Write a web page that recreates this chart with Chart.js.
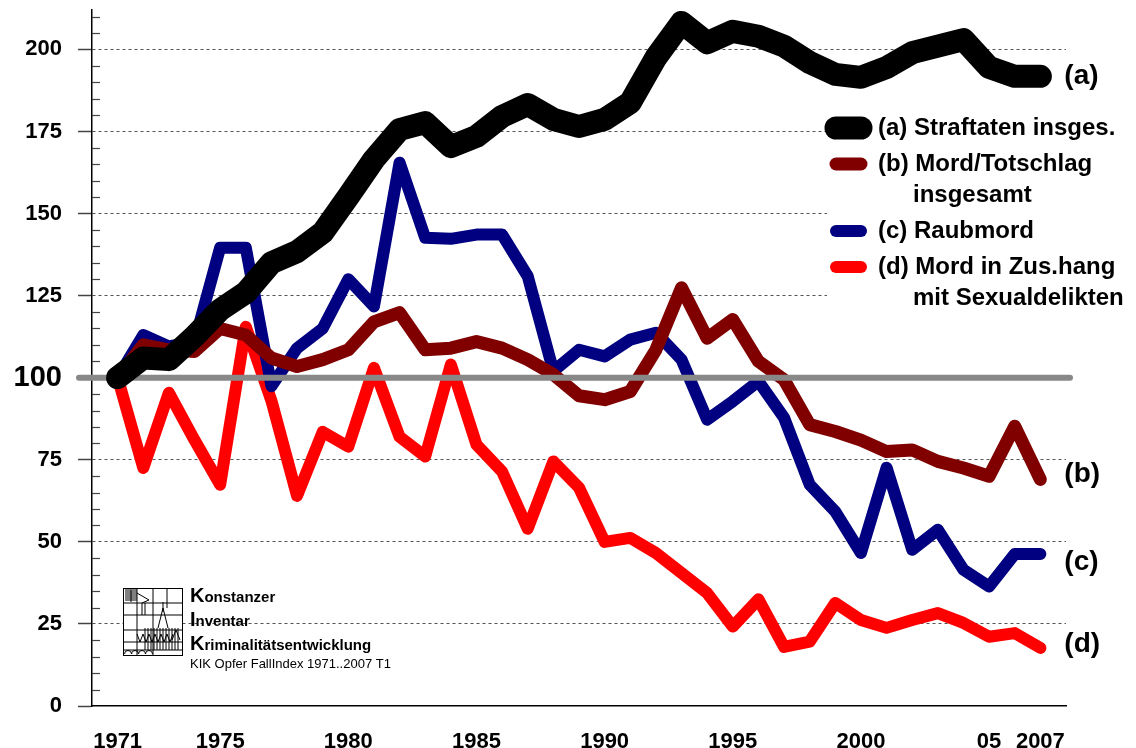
<!DOCTYPE html>
<html lang="de">
<head>
<meta charset="UTF-8">
<title>KIK Opfer FallIndex 1971..2007 T1</title>
<script src="https://cdn.jsdelivr.net/npm/chart.js"></script>
<style>
    html, body { margin: 0; padding: 0; background: #fff; }
    #wrap { width: 1136px; height: 748px; }
</style>
</head>
<body>
<div id="wrap"><canvas id="chart" width="1136" height="748"></canvas></div>
<script>
// Jahre und Indexwerte (1971 = 100)
const years = [1971, 1972, 1973, 1974, 1975, 1976, 1977, 1978, 1979, 1980,
               1981, 1982, 1983, 1984, 1985, 1986, 1987, 1988, 1989, 1990,
               1991, 1992, 1993, 1994, 1995, 1996, 1997, 1998, 1999, 2000,
               2001, 2002, 2003, 2004, 2005, 2006, 2007];

const straftaten = [100, 106, 105.5, 112.6, 120.7, 125.9, 135, 138.4, 144.2, 155.2,
                    166.5, 175.6, 177.7, 170.4, 173.5, 179.6, 183.2, 178.7, 176.5, 178.7,
                    183.8, 197.5, 208.2, 202, 205.5, 204, 201, 196, 192.4, 191.5,
                    194.5, 199, 201, 203, 194.5, 191.8, 191.8];

const mordTotschlag = [100, 110, 108.5, 108, 115, 113, 106, 103.4, 105.5, 108.5,
                       117, 119.8, 108.5, 109, 111, 109, 105.5, 101, 94.5, 93.3,
                       95.8, 108.5, 127.4, 112, 117.7, 105, 99.4, 85.7, 83.6, 81,
                       77.5, 78, 74.5, 72.5, 70, 85.2, 69];

const raubmord = [100, 113, 109.5, 111, 139.6, 139.6, 97.4, 109, 115, 130,
                  121.7, 165.5, 142.6, 142.3, 143.6, 143.6, 130.9, 102, 108.5, 106.5,
                  111.6, 113.7, 105.5, 87.2, 92.8, 98.9, 87.8, 67.4, 59.2, 46.6,
                  72.6, 47.6, 53.7, 41.5, 36.4, 46.3, 46.3];

const sexualMord = [100, 72.5, 95.4, 81, 67.4, 115.5, 93, 64, 83.5, 79,
                    103, 82, 76, 104, 79.6, 71.4, 54, 74.5, 66.5, 50,
                    51.2, 46.6, 40.5, 34.4, 24.2, 32.5, 18, 19.6, 31.4, 26.2,
                    23.8, 26.2, 28.3, 25.3, 21.1, 22.2, 17.7];

const baseline = 100;

const xTicks = [1971, 1975, 1980, 1985, 1990, 1995, 2000, 2005, 2007];
const xTickLabels = ['1971', '1975', '1980', '1985', '1990', '1995', '2000', '05', '2007'];

const seriesLabels = [
    ['(a) Straftaten insges.'],
    ['(b) Mord/Totschlag', 'insgesamt'],
    ['(c) Raubmord'],
    ['(d) Mord in Zus.hang', 'mit Sexualdelikten']
];
const endLabels = ['(a)', '(b)', '(c)', '(d)'];

const colors = ['#000000', '#800000', '#000080', '#ff0000'];
const widths = [23, 13, 12, 12];
const endNudge = [0, -5, 8, -4];

const FONT = '"Liberation Sans", Arial, sans-serif';
Chart.defaults.font.family = FONT;
Chart.defaults.color = '#000';

const allSeries = [straftaten, mordTotschlag, raubmord, sexualMord];

// graue 100er-Linie: ueber (b)-(d), unter (a)
const refLine = {
    id: 'refLine',
    beforeDatasetDraw(chart, args) {
        if (args.index !== 0) return;
        const { ctx, chartArea, scales } = chart;
        const py = scales.y.getPixelForValue(baseline);
        ctx.save();
        ctx.strokeStyle = '#888888';
        ctx.lineWidth = 6;
        ctx.lineCap = 'round';
        ctx.beginPath();
        ctx.moveTo(chartArea.left - 13, py);
        ctx.lineTo(chartArea.right + 4, py);
        ctx.stroke();
        ctx.restore();
    }
};

// kleine Teilstriche innen an der y-Achse
const minorTicks = {
    id: 'minorTicks',
    beforeDatasetsDraw(chart) {
        const { ctx, chartArea, scales } = chart;
        ctx.save();
        ctx.strokeStyle = '#444';
        ctx.lineWidth = 1.2;
        scales.y.ticks.forEach(t => {
            if (t.value % 25 === 0 || t.value % 5 !== 0) return;
            const py = Math.round(scales.y.getPixelForValue(t.value)) + 0.5;
            ctx.beginPath();
            ctx.moveTo(chartArea.left, py);
            ctx.lineTo(chartArea.left + 8, py);
            ctx.stroke();
        });
        ctx.restore();
    }
};

function drawLogo(ctx) {
    const L = 123, T = 588, W = 59, H = 67;
    const seg = (x1, y1, x2, y2) => { ctx.beginPath(); ctx.moveTo(x1, y1); ctx.lineTo(x2, y2); ctx.stroke(); };
    ctx.save();
    ctx.fillStyle = '#fff';
    ctx.fillRect(L, T, W, H);
    ctx.strokeStyle = '#000';
    ctx.lineWidth = 1;
    ctx.strokeRect(L + 0.5, T + 0.5, W, H);
    // Raster
    seg(L + 14, T, L + 14, T + H);
    seg(L + 30, T, L + 30, T + H);
    seg(L + 44, T, L + 44, T + 20);
    seg(L, T + 15, L + W, T + 15);
    seg(L, T + 27, L + W, T + 27);
    seg(L, T + 42, L + W, T + 42);
    seg(L, T + 54, L + W, T + 54);
    seg(L, T + 62, L + W, T + 62);
    // schraffiertes Feld oben links
    for (let i = 2; i < 14; i += 2) seg(L + 2, T + i, L + 14, T + i);
    seg(L + 8, T + 2, L + 8, T + 14);
    // Fahne
    seg(L + 14, T + 5, L + 26, T + 12);
    seg(L + 26, T + 12, L + 19, T + 15);
    seg(L + 19, T + 15, L + 19, T + 27);
    seg(L + 22, T + 15, L + 22, T + 27);
    // Turm
    seg(L + 40, T + 20, L + 35, T + 40);
    seg(L + 40, T + 20, L + 45, T + 40);
    seg(L + 40, T + 14, L + 40, T + 24);
    for (let x = L + 22; x <= L + W - 4; x += 3) seg(x, T + 40, x, T + 62);
    // Zickzack
    ctx.beginPath();
    ctx.moveTo(L + 14, T + 46);
    for (let k = 0; k < 6; k++) {
        ctx.lineTo(L + 17 + k * 6, T + 54);
        ctx.lineTo(L + 20 + k * 6, T + 46);
    }
    ctx.stroke();
    seg(L + W - 10, T + 52, L + W - 6, T + 42);
    seg(L + W - 6, T + 42, L + W - 2, T + 52);
    // Boegen unten
    for (let k = 0; k < 4; k++) {
        ctx.beginPath();
        ctx.arc(L + 5 + k * 7, T + 66, 3.5, Math.PI, 0);
        ctx.stroke();
    }
    ctx.restore();

    // Schriftzug
    ctx.save();
    ctx.fillStyle = '#000';
    ctx.textBaseline = 'alphabetic';
    ctx.textAlign = 'left';
    const lines = [['K', 'onstanzer', 602], ['I', 'nventar', 626], ['K', 'riminalitätsentwicklung', 650]];
    lines.forEach(([big, rest, by]) => {
        ctx.font = 'bold 20px ' + FONT;
        ctx.fillText(big, 190, by);
        const w = ctx.measureText(big).width;
        ctx.font = 'bold 15px ' + FONT;
        ctx.fillText(rest, 190 + w, by);
    });
    ctx.font = '13px ' + FONT;
    ctx.fillText('KIK Opfer FallIndex 1971..2007 T1', 190, 668);
    ctx.restore();
}

const annotations = {
    id: 'annotations',
    afterDatasetsDraw(chart) {
        const { ctx, scales } = chart;
        ctx.save();

        // Legende mit weissem Hintergrund
        ctx.fillStyle = '#fff';
        ctx.fillRect(827, 108, 1136 - 827, 210);
        let y = 128;
        seriesLabels.forEach((lines, i) => {
            ctx.strokeStyle = colors[i];
            ctx.lineWidth = widths[i];
            ctx.lineCap = 'round';
            ctx.beginPath();
            ctx.moveTo(836, y);
            ctx.lineTo(861, y);
            ctx.stroke();
            ctx.fillStyle = '#000';
            ctx.font = 'bold 24px ' + FONT;
            ctx.textAlign = 'left';
            ctx.textBaseline = 'middle';
            lines.forEach((t, k) => {
                ctx.fillText(t, k === 0 ? 878 : 913, y + k * 31);
            });
            y += 31 * (lines.length - 1) + 36;
        });

        // Kennbuchstaben am Linienende
        ctx.font = 'bold 28px ' + FONT;
        ctx.fillStyle = '#000';
        allSeries.forEach((s, i) => {
            const last = s.length - 1;
            const px = scales.x.getPixelForValue(years[last]) + 24;
            const py = scales.y.getPixelForValue(s[last]) + endNudge[i];
            ctx.fillText(endLabels[i], px, py);
        });
        ctx.restore();

        drawLogo(ctx);
    }
};

const ctx = document.getElementById('chart').getContext('2d');
new Chart(ctx, {
    type: 'line',
    data: {
        datasets: allSeries.map((s, i) => ({
            label: seriesLabels[i].join(' '),
            data: years.map((yr, k) => ({ x: yr, y: s[k] })),
            borderColor: colors[i],
            borderWidth: widths[i],
            clip: false
        }))
    },
    options: {
        responsive: false,
        animation: false,
        layout: { padding: { top: 10, right: 70, left: 0, bottom: 0 } },
        elements: {
            point: { radius: 0, hoverRadius: 0 },
            line: { tension: 0, borderCapStyle: 'round', borderJoinStyle: 'round', fill: false }
        },
        plugins: { legend: { display: false }, tooltip: { enabled: false } },
        scales: {
            x: {
                type: 'linear',
                min: 1970,
                max: 2008,
                afterFit: s => { s.height = 42; s.paddingLeft = 0; s.paddingRight = 0; },
                afterBuildTicks: s => { s.ticks = xTicks.map(v => ({ value: v })); },
                grid: { display: true, drawOnChartArea: false, drawTicks: false, color: 'rgba(0,0,0,0)' },
                border: { display: true, color: '#000', width: 1.5 },
                ticks: {
                    autoSkip: false,
                    maxRotation: 0,
                    padding: 23,
                    font: { size: 22, weight: 'bold' },
                    callback: v => xTickLabels[xTicks.indexOf(v)]
                }
            },
            y: {
                min: 0,
                max: 212,
                afterFit: s => { s.width = 92; s.paddingTop = 0; s.paddingBottom = 0; },
                ticks: {
                    stepSize: 5,
                    autoSkip: false,
                    includeBounds: false,
                    padding: 16,
                    font: c => ({ size: (c.tick && c.tick.value === baseline) ? 29 : 22, weight: 'bold' }),
                    callback: v => (v % 25 === 0 ? String(v) : '')
                },
                grid: {
                    lineWidth: 1,
                    drawTicks: true,
                    tickLength: 14,
                    tickWidth: 1.5,
                    color: c => (c.tick && c.tick.value % 25 === 0 && c.tick.value !== 0 && c.tick.value !== baseline) ? '#555' : 'rgba(0,0,0,0)',
                    tickColor: c => (c.tick && c.tick.value % 25 === 0) ? '#444' : 'rgba(0,0,0,0)'
                },
                border: { display: true, color: '#000', width: 1.5, dash: [3, 3] }
            }
        }
    },
    plugins: [minorTicks, refLine, annotations]
});
</script>
</body>
</html>
